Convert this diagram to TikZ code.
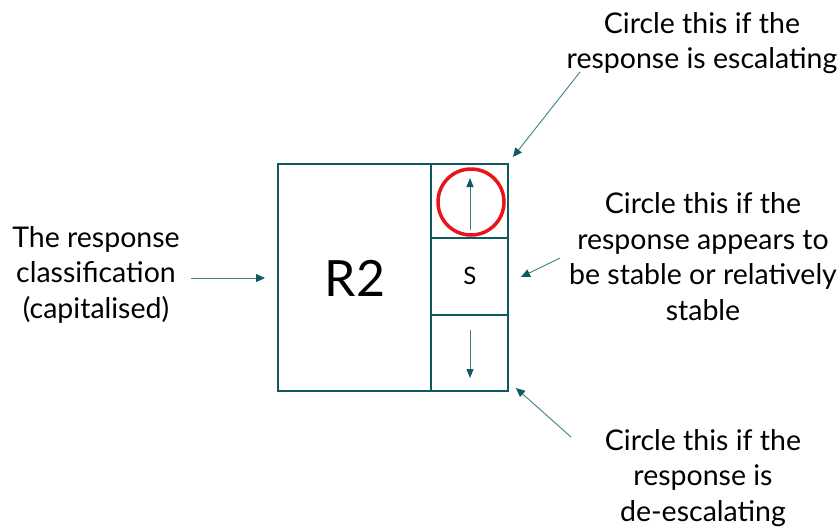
\documentclass[tikz,border=0pt]{standalone}
\usepackage{fontspec}
\setmainfont{Lato}
\usetikzlibrary{arrows.meta}
\definecolor{teal1}{HTML}{0E5A60}
\definecolor{teal2}{HTML}{3E8188}
\definecolor{redc}{HTML}{E8141B}
\begin{document}
\begin{tikzpicture}[x=1pt,y=-1pt,
  lbl/.style={align=center,font=\fontsize{28.5}{35.5}\selectfont,inner sep=0pt},
  boxline/.style={draw=teal1,line width=2pt},
  conn/.style={draw=teal2,line width=0.9pt,-{Triangle[length=9pt,width=8pt,color=teal1]}},
  inarrow/.style={draw=teal2,line width=0.9pt,-{Triangle[length=9pt,width=7pt,color=teal1]}}]
\useasboundingbox (0,0) rectangle (840,528);
% boxes
\draw[boxline] (278,164) rectangle (508,391);
\draw[boxline] (431,164) -- (431,391);
\draw[boxline] (431,238) -- (508,238);
\draw[boxline] (431,315) -- (508,315);
\node[font=\fontsize{50}{50}\selectfont,inner sep=0pt] (r2) at (355,278) {R2};
\node[font=\fontsize{24}{24}\selectfont,inner sep=0pt] (s) at (470,276) {S};
% inner arrows
\coordinate (ua1) at (470,230); \coordinate (ua2) at (470,178);
\coordinate (da1) at (470,330); \coordinate (da2) at (470,378);
\draw[inarrow] (ua1) -- (ua2);
\draw[inarrow] (da1) -- (da2);
% red circle
\node[draw=redc,line width=3.5pt,circle,minimum size=66pt,inner sep=0pt] (rc) at (471,202) {};
% labels
\node[lbl] (top) at (702,43) {Circle this if the\\response is escalating};
\node[lbl] (mid) at (703,256.5) {Circle this if the\\response appears to\\be stable or relatively\\stable};
\node[lbl] (bot) at (703,478) {Circle this if the\\response is\\de-escalating};
\node[lbl] (left) at (96,274.5) {The response\\classification\\(capitalised)};
% connectors
\coordinate (c1s) at (580,72); \coordinate (c1e) at (513,157);
\coordinate (c2s) at (191,278); \coordinate (c2e) at (265,278);
\coordinate (c3s) at (560,258); \coordinate (c3e) at (521,277);
\coordinate (c4s) at (571,437); \coordinate (c4e) at (516,388);
\draw[conn] (c1s) -- (c1e);
\draw[conn] (c2s) -- (c2e);
\draw[conn] (c3s) -- (c3e);
\draw[conn] (c4s) -- (c4e);
\end{tikzpicture}
\end{document}
